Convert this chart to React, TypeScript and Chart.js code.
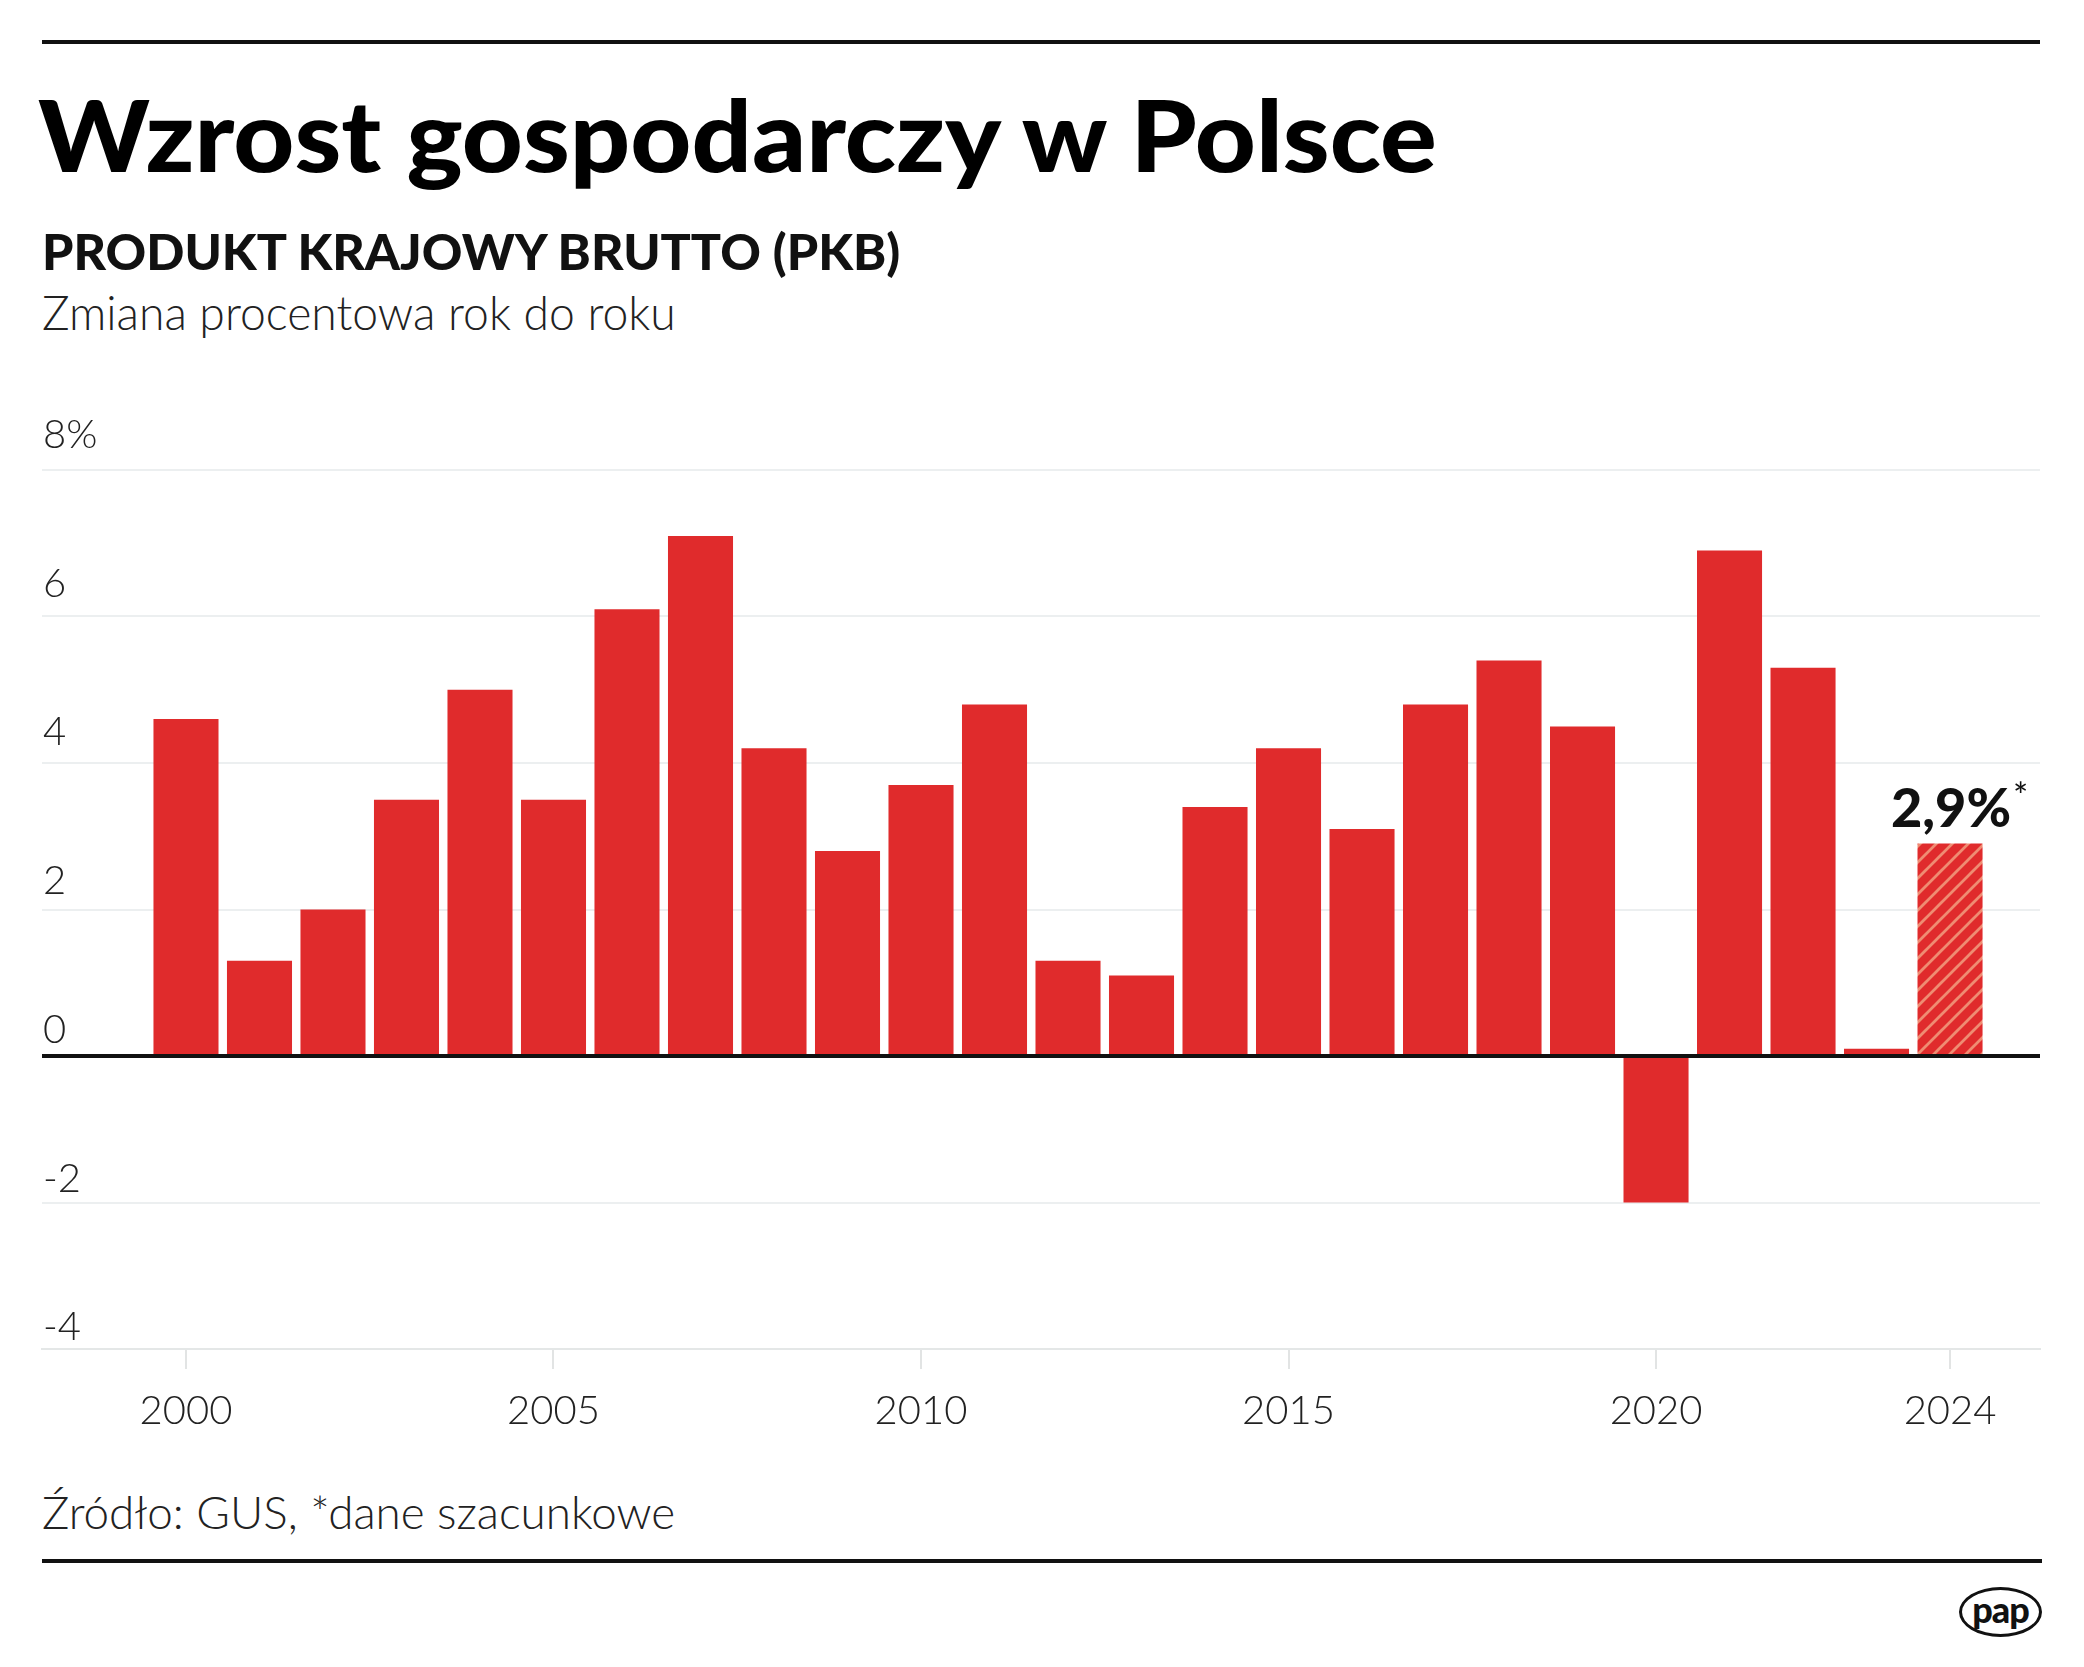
import React, { useEffect, useRef } from 'react';
import { Chart, registerables } from 'chart.js';

Chart.register(...registerables);

// ---- data ----
const years = [
  2000, 2001, 2002, 2003, 2004, 2005, 2006, 2007, 2008, 2009, 2010, 2011, 2012,
  2013, 2014, 2015, 2016, 2017, 2018, 2019, 2020, 2021, 2022, 2023, 2024,
];
const gdpGrowth = [
  4.6, 1.3, 2.0, 3.5, 5.0, 3.5, 6.1, 7.1, 4.2, 2.8, 3.7, 4.8, 1.3,
  1.1, 3.4, 4.2, 3.1, 4.8, 5.4, 4.5, -2.0, 6.9, 5.3, 0.1, 2.9,
];
const estimatedYears = [2024];
const xTickYears = [2000, 2005, 2010, 2015, 2020, 2024];
const yTickValues = [-4, -2, 0, 2, 4, 6, 8];

const TITLE = 'Wzrost gospodarczy w Polsce';
const SUBTITLE = 'PRODUKT KRAJOWY BRUTTO (PKB)';
const DESCRIPTION = 'Zmiana procentowa rok do roku';
const SOURCE = 'Źródło: GUS, *dane szacunkowe';

const RED = '#e02b2c';
const STRIPE = '#ef8c72';
const FONT = 'Lato, "Open Sans", sans-serif';

// layout constants (pixels)
const CANVAS_H = 1080;
const PAD_TOP = 90;
const PAD_BOTTOM = 11;
const X_AXIS_H = 100;
const PLOT_H = CANVAS_H - PAD_TOP - PAD_BOTTOM - X_AXIS_H;
const Y_MIN = -4;
const Y_MAX = 8;
// y labels sit above their gridlines: further at the top tick than at the bottom one
const LABEL_LIFT_TOP = 35;
const LABEL_LIFT_BOTTOM = 21.5;
const LABEL_PX_PER_UNIT = (PLOT_H + LABEL_LIFT_TOP - LABEL_LIFT_BOTTOM) / (Y_MAX - Y_MIN);
const LABEL_AXIS_MAX = Y_MAX - LABEL_LIFT_TOP / LABEL_PX_PER_UNIT;
const LABEL_AXIS_MIN = LABEL_AXIS_MAX - PLOT_H / LABEL_PX_PER_UNIT;

function makeHatch(): CanvasPattern | string {
  const size = 16;
  const c = document.createElement('canvas');
  c.width = size;
  c.height = size;
  const g = c.getContext('2d');
  if (!g) return RED;
  g.fillStyle = RED;
  g.fillRect(0, 0, size, size);
  g.strokeStyle = STRIPE;
  g.lineWidth = 2.8;
  g.beginPath();
  g.moveTo(0, size);
  g.lineTo(size, 0);
  g.moveTo(-2, 2);
  g.lineTo(2, -2);
  g.moveTo(size - 2, size + 2);
  g.lineTo(size + 2, size - 2);
  g.stroke();
  const p = g.createPattern(c, 'repeat');
  return p || RED;
}

const zeroLinePlugin = {
  id: 'zeroLine',
  afterDatasetsDraw(chart: any) {
    const { ctx, chartArea, scales } = chart;
    const py = scales.y.getPixelForValue(0);
    ctx.save();
    ctx.strokeStyle = '#111';
    ctx.lineWidth = 4;
    ctx.beginPath();
    ctx.moveTo(chartArea.left, py);
    ctx.lineTo(chartArea.right, py);
    ctx.stroke();
    ctx.restore();
  },
};

const estimateLabelPlugin = {
  id: 'estimateLabel',
  afterDatasetsDraw(chart: any) {
    const { ctx } = chart;
    const meta = chart.getDatasetMeta(0);
    years.forEach((yr, i) => {
      if (!estimatedYears.includes(yr)) return;
      const el = meta.data[i];
      if (!el) return;
      const txt = gdpGrowth[i].toFixed(1).replace('.', ',') + '%';
      ctx.save();
      ctx.font = `900 54px ${FONT}`;
      ctx.fillStyle = '#111';
      ctx.textBaseline = 'alphabetic';
      ctx.textAlign = 'center';
      const baseY = el.y - 17;
      ctx.fillText(txt, el.x + 1, baseY);
      const w = ctx.measureText(txt).width;
      ctx.font = `400 36px ${FONT}`;
      ctx.textAlign = 'left';
      ctx.fillText('*', el.x + 1 + w / 2 + 2, baseY - 18);
      ctx.restore();
    });
  },
};

const tickFont = { family: FONT, size: 40, weight: '300' as const };

export default function App() {
  const canvasRef = useRef<HTMLCanvasElement | null>(null);

  useEffect(() => {
    const canvas = canvasRef.current;
    if (!canvas) return;
    const hatch = makeHatch();
    const chart = new Chart(canvas, {
      type: 'bar',
      data: {
        datasets: [
          {
            data: years.map((x, i) => ({ x, y: gdpGrowth[i] })),
            backgroundColor: (ctx: any) =>
              estimatedYears.includes(years[ctx.dataIndex]) ? hatch : RED,
            borderWidth: 0,
            categoryPercentage: 1,
            barPercentage: 0.885,
          },
        ],
      },
      options: {
        responsive: false,
        animation: false,
        events: [],
        layout: { padding: { top: PAD_TOP, bottom: PAD_BOTTOM, left: 42, right: 44 } },
        plugins: {
          legend: { display: false },
          tooltip: { enabled: false },
          title: { display: false },
        },
        scales: {
          x: {
            type: 'linear',
            min: 1998.041,
            max: 2025.224,
            offset: false,
            afterBuildTicks: (s: any) => {
              s.ticks = xTickYears.map((v) => ({ value: v }));
            },
            afterFit: (s: any) => {
              s.height = X_AXIS_H;
            },
            grid: {
              display: true,
              drawOnChartArea: false,
              drawTicks: true,
              tickLength: 20,
              color: '#e2e4e4',
              lineWidth: 2,
              offset: false,
            },
            border: { display: true, color: '#e4e7e7', width: 2 },
            ticks: {
              autoSkip: false,
              maxRotation: 0,
              padding: 18,
              color: '#222',
              font: tickFont,
              callback: (v: any) => String(v),
            },
          },
          y: {
            type: 'linear',
            position: 'left',
            min: Y_MIN,
            max: Y_MAX,
            afterBuildTicks: (s: any) => {
              s.ticks = yTickValues.map((v) => ({ value: v }));
            },
            afterFit: (s: any) => {
              s.width = 0;
            },
            grid: {
              drawTicks: false,
              lineWidth: 2,
              color: (ctx: any) =>
                ctx.tick && ctx.tick.value === 0 ? 'rgba(0,0,0,0)' : '#eceff0',
            },
            border: { display: false },
            ticks: { display: false },
          },
          yLabels: {
            type: 'linear',
            position: 'left',
            min: LABEL_AXIS_MIN,
            max: LABEL_AXIS_MAX,
            afterBuildTicks: (s: any) => {
              s.ticks = yTickValues.map((v) => ({ value: v }));
            },
            afterFit: (s: any) => {
              s.width = 0;
            },
            grid: { display: false, drawTicks: false },
            border: { display: false },
            ticks: {
              autoSkip: false,
              mirror: true,
              padding: 1,
              color: '#222',
              font: tickFont,
              callback: (v: any) => (v === Y_MAX ? `${v}%` : String(v)),
            },
          },
        },
      },
      plugins: [zeroLinePlugin, estimateLabelPlugin],
    } as any);
    return () => {
      chart.destroy();
    };
  }, []);

  const base: React.CSSProperties = {
    position: 'absolute',
    margin: 0,
    whiteSpace: 'nowrap',
    lineHeight: 1,
    fontFamily: FONT,
  };

  return (
    <div
      style={{
        position: 'absolute',
        left: 0,
        top: 0,
        width: 2084,
        height: 1667,
        background: '#fff',
        overflow: 'hidden',
      }}
    >
      <div style={{ position: 'absolute', left: 42, top: 40, width: 1998, height: 4, background: '#111' }} />
      <div
        style={{
          ...base,
          left: 38,
          top: 84,
          fontSize: 99,
          fontWeight: 900,
          color: '#000',
          transform: 'scaleX(1.07)',
          transformOrigin: 'left top',
        }}
      >
        {TITLE}
      </div>
      <div style={{ ...base, left: 42, top: 226, fontSize: 50.2, fontWeight: 900, color: '#111' }}>{SUBTITLE}</div>
      <div style={{ ...base, left: 42, top: 289, fontSize: 46.3, fontWeight: 300, color: '#222' }}>{DESCRIPTION}</div>
      <canvas
        ref={canvasRef}
        width={2084}
        height={CANVAS_H}
        style={{ position: 'absolute', left: 0, top: 380, width: 2084, height: CANVAS_H }}
      />
      <div style={{ ...base, left: 42, top: 1489, fontSize: 45.8, fontWeight: 300, color: '#222' }}>{SOURCE}</div>
      <div style={{ position: 'absolute', left: 42, top: 1559, width: 2000, height: 4, background: '#111' }} />
      <div
        style={{
          position: 'absolute',
          left: 1959,
          top: 1587,
          width: 83,
          height: 50,
          boxSizing: 'border-box',
          border: '3px solid #111',
          borderRadius: '50%',
          display: 'flex',
          alignItems: 'center',
          justifyContent: 'center',
        }}
      >
        <span
          style={{
            fontFamily: FONT,
            fontWeight: 900,
            fontSize: 36,
            lineHeight: 1,
            color: '#111',
            letterSpacing: -1,
            marginTop: -6,
          }}
        >
          pap
        </span>
      </div>
    </div>
  );
}
